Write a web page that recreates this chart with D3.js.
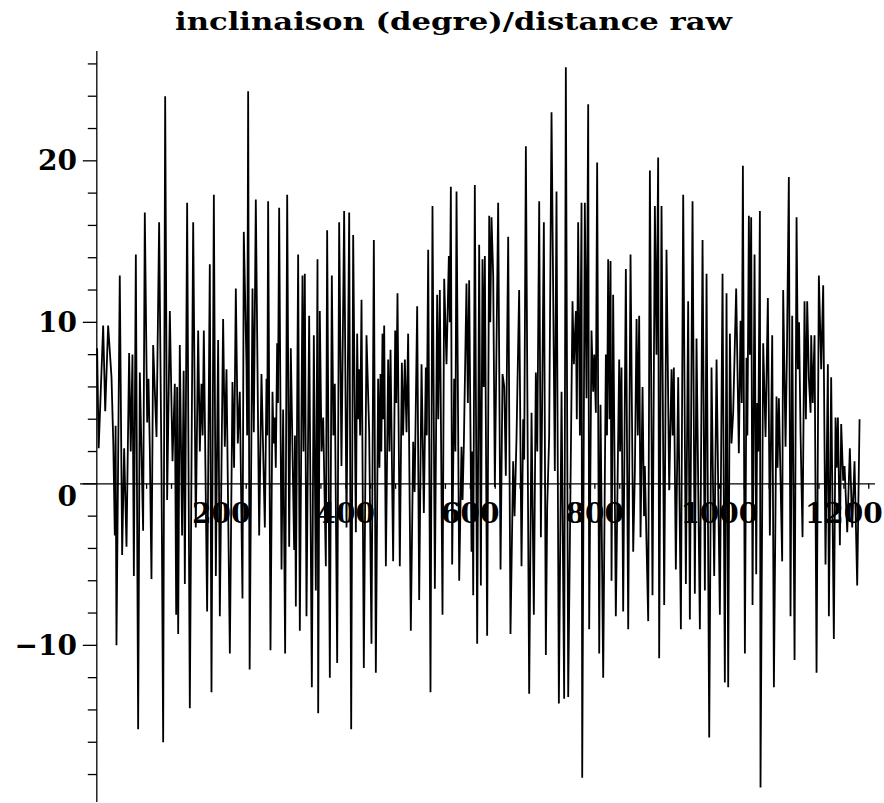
<!DOCTYPE html>
<html>
<head>
<meta charset="utf-8">
<script src="https://cdn.jsdelivr.net/npm/d3@7"></script>
<style>
  body { margin: 0; background: #fff; }
</style>
</head>
<body>
<div id="chart"></div>
<script>
// values (vertices of the polyline)
var distance = [
  0.5, 3, 10.2, 13.5, 18.2, 23.6, 26.5, 28.9, 30.2, 31.6, 36.9, 40.7, 43.9, 47.7, 51.9, 54.5, 57.3, 59.5, 62.7, 66.4,
  69.1, 74.4, 77.1, 80.9, 83, 85.1, 87.8, 90.5, 95.9, 100.1, 103.9, 106.6, 109.8, 113, 117.3, 121.6, 125.3, 127.5, 129, 130.7,
  133.3, 137, 139.5, 141.4, 145.1, 149.4, 154.8, 159, 162.8, 165.5, 168.1, 170, 171.9, 177.2, 181.5, 184.2, 188, 191.2, 194.9, 197.6,
  202.9, 205.6, 208.3, 213.7, 217.9, 220.5, 223.3, 226.5, 229.7, 234, 236.1, 240.4, 241.5, 243.1, 245.5, 250.1, 252.2, 255.4, 260.8, 264.5,
  269.9, 272.6, 273.8, 275.2, 279, 282.2, 284, 285.9, 287.5, 289.7, 291, 292.9, 296.7, 299.3, 302.5, 305.8, 309, 311.6, 317, 318.3,
  319.7, 323.4, 326.1, 330.4, 332, 334.1, 336.8, 341.1, 345.4, 348.6, 351.8, 354.5, 355.6, 358.2, 361, 363.6, 367.9, 370, 374.3, 377.5,
  380, 382.3, 386.1, 389.3, 393, 397.3, 401.1, 405.4, 408.6, 411.8, 416.1, 418.2, 420, 421.4, 423, 425.2, 428.9, 433.2, 437.5, 441.2,
  445, 448.2, 451.9, 454, 455.7, 457, 458.9, 460, 461.6, 464.3, 468, 470, 471.8, 476, 479.3, 481, 483, 486.7, 490, 492,
  494.8, 497.5, 500.1, 504.4, 508.2, 510.5, 514.6, 517.8, 521.6, 525.3, 528.5, 530, 532.3, 536, 539.2, 543, 546.7, 548.5, 551, 555.3,
  558, 561.7, 565.5, 567, 568.7, 570.8, 574, 576, 577.8, 582.1, 585.8, 587.5, 589.6, 593.8, 596, 598.1, 601.9, 603.3, 604.6, 607.2,
  611, 614.2, 616.9, 619.5, 621.5, 623.3, 627, 630.3, 632, 634, 636.7, 639.4, 644.7, 648.5, 651.7, 654.5, 657, 660.8, 664.5, 668.8,
  671, 674.2, 678.4, 682.2, 684.9, 686.5, 689.2, 694.5, 698.3, 702, 705.2, 707.5, 710.6, 713.3, 718.1, 721.3, 723.4, 726.6, 730.4, 735.7,
  738.4, 742.2, 746.5, 750.7, 753.4, 757.2, 764.1, 766.3, 769.5, 771, 773.2, 776, 778.6, 779.7, 783.9, 786.6, 789.3, 790.9, 794.6, 797.3,
  799, 801.6, 803.7, 807, 809.1, 813.4, 817.7, 819.5, 821.4, 823.5, 825.2, 826.8, 829.4, 833.7, 839.1, 840.5, 842.8, 845.5, 849.8, 853.6,
  857.3, 861.6, 864.3, 867, 869, 871.2, 873.4, 876.6, 879, 880.3, 885.7, 888.4, 892.6, 896.4, 899, 901.7, 903.3, 907.1, 911.4, 915.1,
  919.4, 923.2, 925, 926.9, 930.1, 933.9, 938.2, 941.9, 946.2, 949.9, 952.6, 956.9, 960.6, 963.3, 968.7, 973, 976.7, 979.4, 983.7, 987.4,
  991.7, 995.5, 1000.8, 1005.1, 1008.8, 1011.5, 1014.2, 1016.9, 1019.5, 1022.2, 1027, 1031.3, 1034, 1036, 1037.8, 1041, 1043.6, 1045, 1047.4, 1049,
  1051.1, 1053.3, 1056.5, 1059.2, 1060.8, 1062.5, 1065.1, 1066.1, 1070.4, 1074.2, 1077.9, 1081.1, 1084.9, 1087.6, 1091.8, 1093.5, 1095.6, 1098.3, 1100.9, 1102.5,
  1106.3, 1108.5, 1111.6, 1114.3, 1117, 1120.8, 1124, 1126.1, 1128, 1130.4, 1133.6, 1136.8, 1139, 1141.1, 1143.8, 1146.5, 1147.5, 1150, 1152.9, 1156.1,
  1159.8, 1163.6, 1166.8, 1170.5, 1174.3, 1175.9, 1179.6, 1183.9, 1186.6, 1188.5, 1190.4, 1193.6, 1195.7, 1198.9, 1201.1, 1205.4, 1209.6, 1213.4, 1217.1, 1221.4,
  1225.2
];

var inclinaison = [
  8.4, 2.2, 9.8, 4.5, 9.8, 6.6, 2.5, -3.2, 3.6, -10.0, 12.9, -4.4, 2.2, -3.9, 8.1, 2.0, 8.0, -5.7, 14.2, -15.2,
  6.9, -2.9, 16.8, 3.8, 6.5, 2.3, -5.9, 8.6, 2.9, 16.2, 0.8, -16.0, 24.0, -1.0, 10.7, 1.4, 6.2, -8.1, 6.0, -9.3,
  8.6, -3.2, 7.0, -6.2, 17.4, -13.9, 16.2, -2.7, 9.5, 2.0, 6.2, 3.0, 9.5, -7.9, 13.6, -12.9, 17.9, -5.7, 8.9, -8.2,
  10.2, 2.3, 7.1, -10.5, 6.3, 1.0, 12.1, 2.5, 5.7, -7.1, 15.6, 7.4, 3.0, 24.3, -11.5, 12.1, 3.2, 17.6, -3.2, 6.8,
  -2.7, 6.5, 3.0, 17.5, -10.3, 5.7, 2.5, 4.1, 1.0, 8.7, 5.0, 17.1, -5.3, 4.6, -10.5, 17.9, -3.9, 8.4, -4.1, 3.0,
  -7.6, 14.2, -9.1, 12.9, 2.0, 13.0, -8.2, 10.4, -12.6, 9.2, -6.6, 13.9, -14.2, 10.7, 2.0, 4.1, -5.1, 15.7, -12.0, 12.9,
  3.0, 6.2, -11.1, 16.2, 1.1, 16.9, -2.7, 16.8, -15.2, 15.4, -3.0, 9.3, 4.0, 7.1, 3.0, 11.4, -11.4, 9.2, 3.2, -9.9,
  15.1, -11.7, 6.5, 1.0, 6.8, 2.0, 9.3, 4.0, 9.8, -5.1, 7.7, 2.0, 8.3, -4.8, 9.5, 5.0, 11.8, -5.1, 7.5, 3.0,
  7.7, 3.2, 9.3, -9.1, 2.6, -0.5, 11.0, -7.2, 7.4, -1.8, 7.2, 3.0, 14.5, -12.9, 17.2, -6.5, 11.7, 4.0, 12.0, -8.1,
  12.7, 7.4, 14.1, 10.0, 18.4, -5.0, 6.5, 2.0, 18.1, -6.0, 2.3, -1.0, 2.5, 12.4, 5.0, 12.6, -4.2, 2.0, -6.9, 18.5,
  -9.9, 14.8, -6.3, 13.9, 6.0, 14.1, -9.4, 16.6, 10.0, 16.5, 12.9, -0.2, 17.4, -5.3, 6.8, 6.0, 0.5, 15.3, -9.3, 1.4,
  -2.0, 2.9, 12.0, -5.1, 4.0, 1.5, 20.9, -13.0, 4.4, -8.1, 6.9, 2.0, 17.5, -3.3, 16.2, -10.6, -1.5, 2.9, 23.0, 0.8,
  18.1, -13.6, 5.7, -13.3, 25.8, -13.2, 11.3, 7.4, 10.7, 4.0, 16.2, 3.0, 17.4, -18.2, 17.4, 5.3, 23.5, -9.0, 9.5, 5.7,
  8.0, 4.4, 19.9, -10.5, 4.9, -12.0, 8.0, 3.0, 13.9, 4.0, 13.8, -6.0, 11.7, -8.2, 7.7, 2.0, 7.2, -7.9, 13.3, -9.0,
  14.2, -4.2, 0.8, 10.2, 3.0, 10.4, -3.3, 6.0, -2.0, 1.1, -8.5, 19.4, -6.9, 17.2, 8.0, 20.2, -10.8, 17.2, -7.5, 14.5,
  -0.4, 7.1, 3.0, 7.2, -5.3, 6.6, -9.0, 17.9, -6.2, 11.3, -8.4, 17.5, -6.8, 9.0, -9.0, 15.1, -6.6, 13.0, -15.7, 7.2,
  -5.7, 7.7, -8.1, 13.0, -12.3, 11.8, -12.6, 9.3, 2.5, 4.4, 12.1, 1.9, 10.1, 5.0, 19.7, -10.5, 7.8, 3.0, 16.6, 8.0,
  16.5, -7.5, 14.2, -5.6, 5.0, 2.0, 16.9, -18.8, 8.7, 2.9, 11.5, -3.2, 9.2, -12.6, 5.4, 1.0, 5.3, 0.2, -4.8, 12.0,
  2.3, 8.0, 19.0, -8.2, 10.4, -10.9, 16.5, 7.1, 10.0, 3.1, -3.3, 11.3, 4.0, 11.3, 6.5, 4.4, 9.2, 5.0, 9.2, -11.7,
  12.9, 7.1, 12.3, -5.0, 7.4, -8.2, 6.6, -9.6, 4.1, 1.0, 4.1, -3.8, 3.7, 0.2, 1.1, -3.0, 2.2, -2.7, 1.4, -6.3,
  4.0
];

var chartTitle = 'inclinaison (degre)/distance raw';
var xLabels = [200, 400, 600, 800, 1000, 1200];
var yLabels = [-10, 0, 10, 20];
var xDomain = [-27, 1250];
var yDomain = [-19.7, 26.8];

function getChart() {
  var attrs = {
    svgWidth: 884,
    svgHeight: 803,
    fontFamily: "'DejaVu Serif', serif",
    left: 80,
    right: 875,
    top: 51,
    bottom: 802
  };

  var main = function (selection) {
    selection.each(function () {

      var x = d3.scaleLinear().domain(xDomain).range([attrs.left, attrs.right]);
      var y = d3.scaleLinear().domain(yDomain).range([attrs.bottom, attrs.top]);

      var svg = d3.select(this)
        .append('svg')
        .attr('width', attrs.svgWidth)
        .attr('height', attrs.svgHeight)
        .attr('font-family', attrs.fontFamily)
        .attr('font-weight', 'bold');

      // title
      svg.append('text')
        .attr('x', 175)
        .attr('y', 30)
        .attr('font-size', 24)
        .attr('textLength', 557)
        .attr('lengthAdjust', 'spacingAndGlyphs')
        .text(chartTitle);

      var axes = svg.append('g').attr('stroke', '#000').attr('stroke-width', 1.3);

      // x axis through zero
      axes.append('line')
        .attr('x1', attrs.left).attr('x2', attrs.right)
        .attr('y1', y(0)).attr('y2', y(0));

      // y axis at x = 0
      axes.append('line')
        .attr('x1', x(0)).attr('x2', x(0))
        .attr('y1', attrs.top).attr('y2', attrs.bottom);

      // y ticks every 2, longer where labelled
      axes.selectAll('.ytick')
        .data(d3.range(-18, 27, 2))
        .enter()
        .append('line')
        .attr('class', 'ytick')
        .attr('x1', d => x(0) - (d % 10 === 0 ? 14 : 9))
        .attr('x2', x(0))
        .attr('y1', d => y(d))
        .attr('y2', d => y(d));

      // x ticks every 40
      axes.selectAll('.xtick')
        .data(d3.range(40, 1250, 40))
        .enter()
        .append('line')
        .attr('class', 'xtick')
        .attr('x1', d => x(d))
        .attr('x2', d => x(d))
        .attr('y1', y(0))
        .attr('y2', y(0) + 5);

      svg.append('g')
        .selectAll('text')
        .data(yLabels)
        .enter()
        .append('text')
        .attr('font-size', 28)
        .attr('text-anchor', 'end')
        .attr('dominant-baseline', 'central')
        .attr('x', 77)
        .attr('y', d => d === 0 ? y(d) + 13 : y(d))
        .text(d => d < 0 ? '\u2212' + Math.abs(d) : d);

      svg.append('g')
        .selectAll('text')
        .data(xLabels)
        .enter()
        .append('text')
        .attr('font-size', 28)
        .attr('text-anchor', 'middle')
        .attr('x', d => x(d))
        .attr('y', y(0) + 39)
        .text(d => d);

      // the data line
      var pts = distance.map((d, i) => [d, inclinaison[i]]);
      var line = d3.line().x(d => x(d[0])).y(d => y(d[1]));

      svg.append('path')
        .datum(pts)
        .attr('d', line)
        .attr('fill', 'none')
        .attr('stroke', '#000')
        .attr('stroke-width', 1.8)
        .attr('stroke-linejoin', 'miter');
    });
  };

  return main;
}

d3.select('#chart').call(getChart());
</script>
</body>
</html>
